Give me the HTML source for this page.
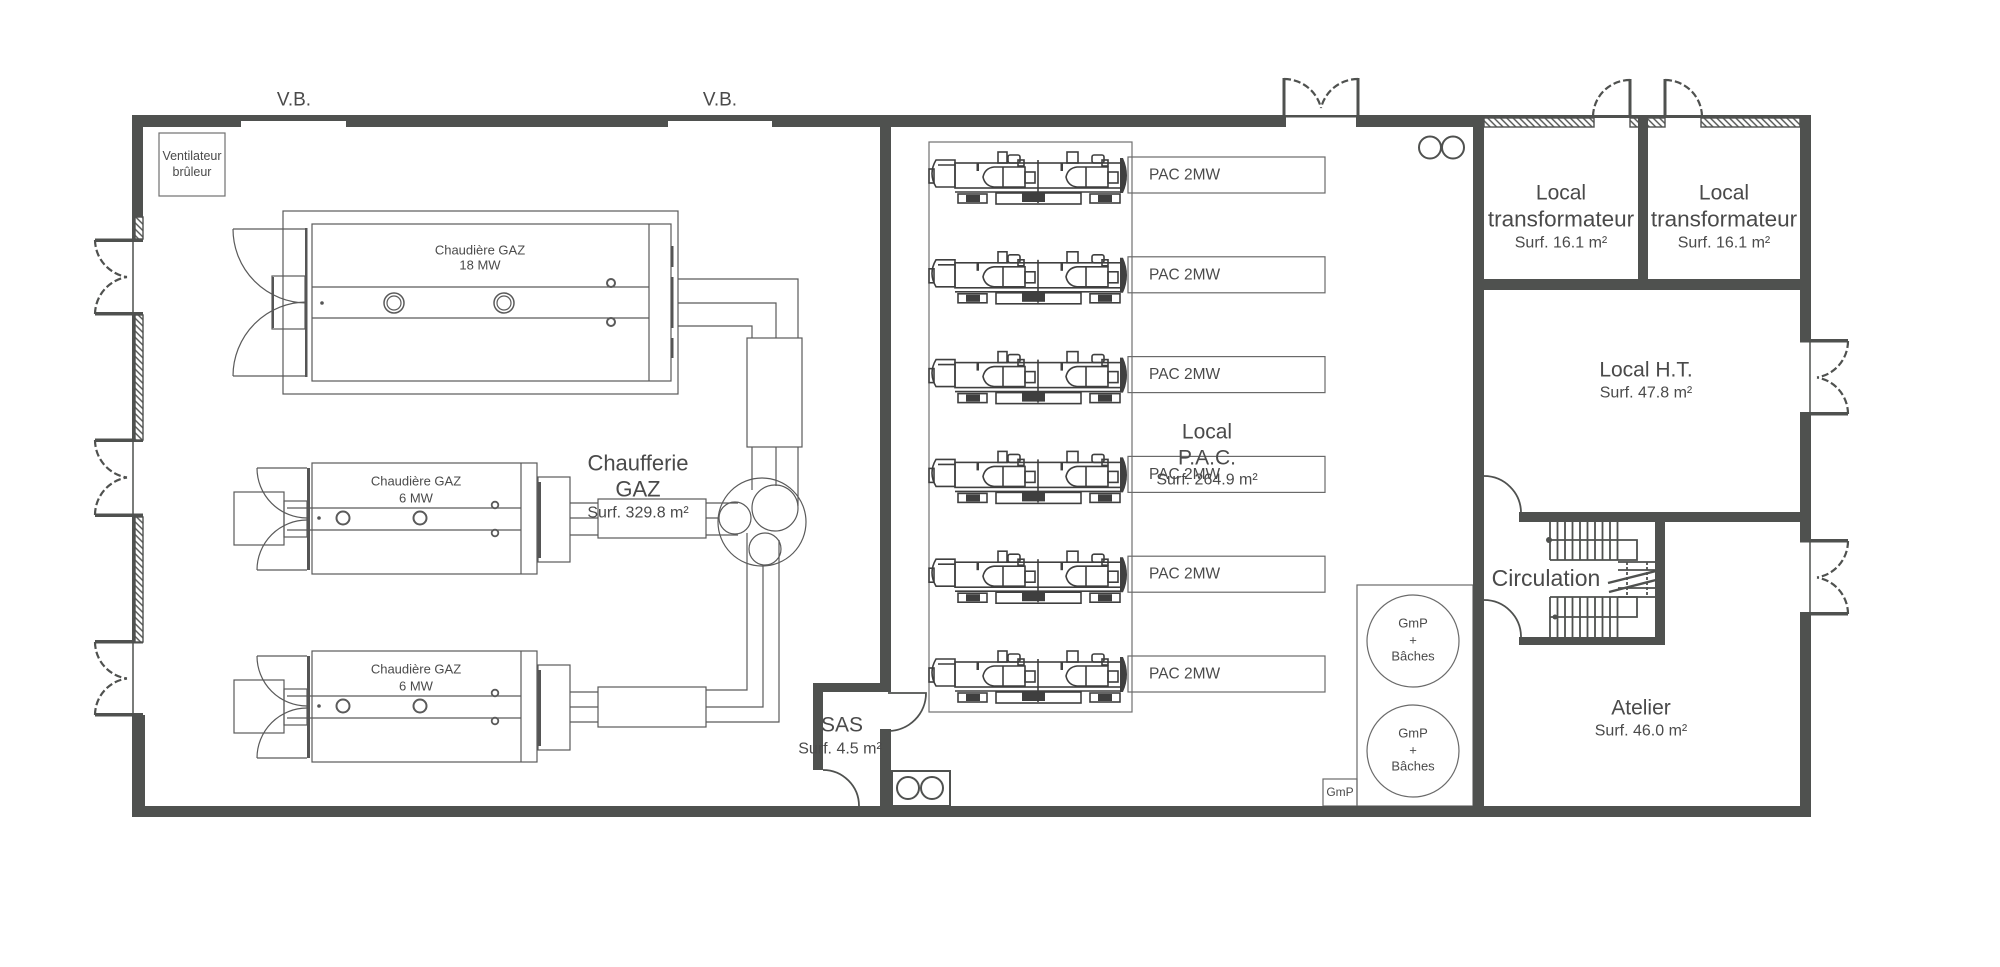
<!DOCTYPE html>
<html><head><meta charset="utf-8">
<style>html,body{margin:0;padding:0;background:#fff;}svg{display:block}</style>
</head><body>
<svg width="2000" height="967" viewBox="0 0 2000 967" xmlns="http://www.w3.org/2000/svg">
<defs>
<pattern id="h" patternUnits="userSpaceOnUse" width="4.5" height="4.5" patternTransform="rotate(-45)"><rect width="4.5" height="4.5" fill="#fff"/><line x1="1" y1="0" x2="1" y2="4.5" stroke="#4f514f" stroke-width="1.4"/></pattern>
<g id="pac">
  <g fill="none" stroke="#3f3f3f" stroke-width="1.6">
    <path d="M936 160 H955 V187 H936 Q928 173.5 936 160 Z"/>
    <rect x="929" y="169" width="5" height="14"/>
    <line x1="938" y1="165" x2="955" y2="165"/>
    <rect x="955" y="163" width="166" height="25"/>
    <line x1="955" y1="192" x2="1121" y2="192"/>
    <path d="M983 177 Q985 168 994 167 H1025 V187 H994 Q985 186 983 177 Z"/>
    <line x1="1003" y1="167" x2="1003" y2="187"/>
    <rect x="1025" y="172" width="10" height="11"/>
    <path d="M1066 177 Q1068 168 1077 167 H1108 V187 H1077 Q1068 186 1066 177 Z"/>
    <line x1="1086" y1="167" x2="1086" y2="187"/>
    <rect x="1108" y="172" width="10" height="11"/>
    <rect x="998" y="152" width="9" height="11"/>
    <rect x="1067" y="152" width="11" height="11"/>
    <rect x="1008" y="155" width="12" height="8" rx="2"/>
    <rect x="1018" y="160" width="6" height="6"/>
    <rect x="1092" y="155" width="12" height="8" rx="2"/>
    <rect x="1102" y="160" width="6" height="6"/>
    <line x1="1038" y1="160" x2="1038" y2="203"/>
    <rect x="996" y="193" width="85" height="11"/>
    <rect x="958" y="194" width="29" height="9"/>
    <rect x="1090" y="194" width="30" height="9"/>
  </g>
  <g fill="#3f3f3f">
    <rect x="1022" y="193" width="23" height="9"/>
    <rect x="966" y="195" width="14" height="7"/>
    <rect x="1098" y="195" width="14" height="7"/>
    <rect x="976.5" y="163" width="2.5" height="8"/>
    <rect x="1060.5" y="163" width="2.5" height="8"/>
    <path d="M1120 158 H1123 Q1131 175.5 1123 193 H1120 Z"/>
  </g>
</g>
<g id="b6" fill="none" stroke="#5a5a5a" stroke-width="1.2">
  <rect x="312" y="463" width="225" height="111"/>
  <line x1="521" y1="463" x2="521" y2="574"/>
  <rect x="284" y="501" width="23" height="36"/>
  <rect x="234" y="492" width="50" height="53"/>
  <line x1="287" y1="508" x2="521" y2="508"/>
  <line x1="287" y1="530" x2="521" y2="530"/>
  <circle cx="343" cy="518" r="6.5" stroke-width="2"/>
  <circle cx="420" cy="518" r="6.5" stroke-width="2"/>
  <circle cx="495" cy="505" r="3.3" stroke-width="1.8"/>
  <circle cx="495" cy="533" r="3.3" stroke-width="1.8"/>
  <rect x="538" y="477" width="32" height="85"/>
  <path d="M257 468 H307 M257 570 H307"/>
  <path d="M257 468 A50 50 0 0 0 307 518"/>
  <path d="M257 570 A50 50 0 0 1 307 520"/>
  <rect x="307" y="468" width="3" height="102" fill="#555" stroke="none"/>
  <rect x="538" y="482" width="3" height="76" fill="#555" stroke="none"/>
  <circle cx="319" cy="518" r="1.8" fill="#555" stroke="none"/>
</g>
</defs>

<!-- ===== Chaufferie equipment ===== -->
<rect x="159" y="133" width="66" height="63" fill="none" stroke="#707070" stroke-width="1.2"/>

<g fill="none" stroke="#5a5a5a" stroke-width="1.2">
  <rect x="283" y="211" width="395" height="183"/>
  <rect x="312" y="224" width="359" height="157"/>
  <line x1="649" y1="224" x2="649" y2="381"/>
  <rect x="272" y="276" width="33" height="53"/>
  <line x1="312" y1="287" x2="649" y2="287"/>
  <line x1="312" y1="318" x2="649" y2="318"/>
  <circle cx="394" cy="303" r="10" stroke-width="1.5"/>
  <circle cx="394" cy="303" r="7" stroke-width="1.2"/>
  <circle cx="504" cy="303" r="10" stroke-width="1.5"/>
  <circle cx="504" cy="303" r="7" stroke-width="1.2"/>
  <circle cx="611" cy="283" r="4" stroke-width="2"/>
  <circle cx="611" cy="322" r="4" stroke-width="2"/>
  <path d="M233 229 H307 M233 376 H307"/>
  <path d="M233 229 A74 74 0 0 0 307 303"/>
  <path d="M233 376 A74 74 0 0 1 307 302"/>
</g>
<g fill="#555">
  <rect x="305" y="228" width="2.5" height="149"/>
  <rect x="272" y="277" width="2" height="51"/>
  <circle cx="322" cy="303" r="1.8"/>
  <rect x="671" y="246" width="2.5" height="21"/>
  <rect x="671" y="277" width="2.5" height="51"/>
  <rect x="671" y="338" width="2.5" height="20"/>
</g>

<use href="#b6"/>
<use href="#b6" transform="translate(0,188)"/>

<!-- pipes -->
<g fill="none" stroke="#5a5a5a" stroke-width="1.2">
  <path d="M678 279 H798 V338"/>
  <path d="M678 303 H776 V338"/>
  <path d="M678 326 H752 V338"/>
  <rect x="747" y="338" width="55" height="109"/>
  <path d="M752 447 V490 M776 447 V486 M798 447 V506"/>
  <path d="M570 503 H598 M570 518 H598 M570 535 H598"/>
  <rect x="598" y="499" width="108" height="39"/>
  <path d="M706 503 H738 M706 518 H719 M706 535 H738"/>
  <path d="M570 692 H598 M570 707 H598 M570 722 H598"/>
  <rect x="598" y="687" width="108" height="40"/>
  <path d="M706 690 H747 V533"/>
  <path d="M706 707 H763 V565"/>
  <path d="M706 722 H779 V540"/>
  <circle cx="762" cy="522" r="44"/>
  <circle cx="775" cy="508" r="23"/>
  <circle cx="735" cy="518" r="16"/>
  <circle cx="765" cy="549" r="16"/>
</g>

<!-- ===== PAC room equipment ===== -->
<rect x="929" y="142" width="203" height="570" fill="none" stroke="#707070" stroke-width="1.2"/>
<use href="#pac"/>
<use href="#pac" transform="translate(0,99.8)"/>
<use href="#pac" transform="translate(0,199.6)"/>
<use href="#pac" transform="translate(0,299.4)"/>
<use href="#pac" transform="translate(0,399.2)"/>
<use href="#pac" transform="translate(0,499)"/>
<g fill="none" stroke="#6a6a6a" stroke-width="1.2">
  <rect x="1128" y="157" width="197" height="36"/>
  <rect x="1128" y="256.8" width="197" height="36"/>
  <rect x="1128" y="356.6" width="197" height="36"/>
  <rect x="1128" y="456.4" width="197" height="36"/>
  <rect x="1128" y="556.2" width="197" height="36"/>
  <rect x="1128" y="656" width="197" height="36"/>
  <rect x="1357" y="585" width="116" height="221"/>
  <circle cx="1413" cy="641" r="46"/>
  <circle cx="1413" cy="751" r="46"/>
  <rect x="1323" y="779" width="34" height="27"/>
</g>
<g fill="none" stroke="#4f514f" stroke-width="2">
  <circle cx="1430" cy="147.5" r="11"/>
  <circle cx="1453" cy="147.5" r="11"/>
  <rect x="892" y="771" width="58" height="35"/>
  <circle cx="908" cy="788" r="11"/>
  <circle cx="932" cy="788" r="11"/>
</g>

<!-- ===== Walls ===== -->
<g fill="#4f514f">
  <rect x="132" y="115" width="1352" height="12"/>
  <rect x="1484" y="115" width="327" height="3"/>
  <rect x="132" y="115" width="11" height="102"/>
  <rect x="132" y="217" width="3" height="22"/>
  <rect x="132" y="315" width="3" height="125"/>
  <rect x="132" y="517" width="3" height="125"/>
  <rect x="132" y="715" width="13" height="102"/>
  <rect x="95" y="238.5" width="48" height="3.5"/>
  <rect x="95" y="312" width="48" height="3.5"/>
  <rect x="95" y="438.5" width="48" height="3.5"/>
  <rect x="95" y="513.5" width="48" height="3.5"/>
  <rect x="95" y="640" width="48" height="3.5"/>
  <rect x="95" y="713" width="48" height="3.5"/>
  <rect x="132" y="806" width="1679" height="11"/>
  <rect x="1800" y="115" width="11" height="225"/>
  <rect x="1800" y="415" width="11" height="125"/>
  <rect x="1800" y="615" width="11" height="202"/>
  <rect x="1800" y="339" width="48" height="3.5"/>
  <rect x="1800" y="412" width="48" height="3.5"/>
  <rect x="1800" y="539" width="48" height="3.5"/>
  <rect x="1800" y="612" width="48" height="3.5"/>
  <rect x="880" y="115" width="11" height="577"/>
  <rect x="880" y="729" width="11" height="80"/>
  <rect x="813" y="683" width="78" height="9"/>
  <rect x="813" y="683" width="10" height="87"/>
  <rect x="1473" y="115" width="11" height="695"/>
  <rect x="1484" y="279" width="327" height="11"/>
  <rect x="1519" y="512" width="292" height="10"/>
  <rect x="1655" y="512" width="10" height="133"/>
  <rect x="1519" y="637" width="146" height="8"/>
</g>
<!-- openings in top wall -->
<g fill="#fff">
  <rect x="241" y="121" width="105" height="7"/>
  <rect x="668" y="121" width="104" height="7"/>
  <rect x="1286" y="117.5" width="70" height="10.5"/>
</g>
<!-- hatched -->
<g fill="url(#h)" stroke="#4f514f" stroke-width="1.4">
  <rect x="1484" y="118" width="110" height="9"/>
  <rect x="1630" y="118" width="35" height="9"/>
  <rect x="1701" y="118" width="99" height="9"/>
  <rect x="135" y="217" width="8" height="22"/>
  <rect x="135" y="315" width="8" height="125"/>
  <rect x="135" y="517" width="8" height="125"/>
</g>
<rect x="1638" y="118" width="10" height="172" fill="#4f514f"/>
<rect x="1800" y="118" width="11" height="162" fill="#4f514f"/>

<!-- thin lines at openings -->
<g stroke="#4f514f" stroke-width="1.5" fill="none">
  <path d="M133 240 V314 M133 440 V515 M133 642 V715"/>
  <path d="M1810 341 V414 M1810 541 V614"/>
</g>

<!-- dashed door swings -->
<g fill="none" stroke="#4f514f" stroke-width="2.2" stroke-dasharray="7 3">
  <path d="M95 240 A38 38 0 0 0 127 277"/>
  <path d="M95 314 A38 38 0 0 1 127 277"/>
  <path d="M95 440 A38 38 0 0 0 127 477.5"/>
  <path d="M95 515 A38 38 0 0 1 127 477.5"/>
  <path d="M95 642 A37 37 0 0 0 127 678.5"/>
  <path d="M95 715 A37 37 0 0 1 127 678.5"/>
  <path d="M1848 341 A37 37 0 0 1 1817 377.5"/>
  <path d="M1848 414 A37 37 0 0 0 1817 377.5"/>
  <path d="M1848 541 A37 37 0 0 1 1817 577.5"/>
  <path d="M1848 614 A37 37 0 0 0 1817 577.5"/>
  <path d="M1630 80 A37 37 0 0 0 1593 117"/>
  <path d="M1665 80 A37 37 0 0 1 1702 117"/>
  <path d="M1284 79 A38 38 0 0 1 1321 108"/>
  <path d="M1358 79 A38 38 0 0 0 1321 108"/>
</g>
<g stroke="#4f514f" stroke-width="3" fill="none">
  <path d="M1630 117 V79 M1665 117 V79 M1284 117 V78 M1358 117 V78"/>
</g>

<!-- solid door swings -->
<g fill="none" stroke="#4f514f" stroke-width="1.8">
  <path d="M1484 476 A37 37 0 0 1 1521 513"/>
  <path d="M1484 600 A37 37 0 0 1 1521 637"/>
  <path d="M888 693 H926 A38 38 0 0 1 888 731"/>
  <path d="M823 770 A36 36 0 0 1 859 806"/>
</g>

<!-- stairs -->
<g stroke="#4f514f" stroke-width="1.8" fill="none">
  <path d="M1550 522 V560 M1557.5 522 V560 M1565 522 V560 M1572.5 522 V560 M1580 522 V560 M1587.5 522 V560 M1595 522 V560 M1602.5 522 V560 M1610 522 V560 M1617.5 522 V560"/>
  <path d="M1550 540 H1637 V560 H1550"/>
  <path d="M1618 562 H1655 M1618 570 H1655 M1618 588 H1655 M1618 597 H1655"/>
  <path d="M1627 562 V597 M1647 562 V597" stroke-dasharray="3 2"/>
  <path d="M1550 597 V637 M1557.5 597 V637 M1565 597 V637 M1572.5 597 V637 M1580 597 V637 M1587.5 597 V637 M1595 597 V637 M1602.5 597 V637 M1610 597 V637 M1617.5 597 V637"/>
  <path d="M1550 597 H1637 V617 H1550"/>
  <path d="M1608 583 L1656 571 M1609 592 L1656 580" stroke-width="2.4"/>
</g>
<circle cx="1549" cy="540" r="3" fill="#4f514f"/>
<circle cx="1555" cy="617" r="2.5" fill="#4f514f"/>
<circle cx="1659" cy="575" r="2" fill="#4f514f"/>

<!-- ===== Text ===== -->
<g font-family="'Liberation Sans', sans-serif" fill="#4a4a4a" text-anchor="middle" dominant-baseline="central">
  <text x="294" y="100" font-size="19">V.B.</text>
  <text x="720" y="100" font-size="19">V.B.</text>
  <text x="192" y="156" font-size="12.5">Ventilateur</text>
  <text x="192" y="172" font-size="12.5">brûleur</text>
  <text x="480" y="250" font-size="13">Chaudière GAZ</text>
  <text x="480" y="265" font-size="13">18 MW</text>
  <text x="416" y="481" font-size="13">Chaudière GAZ</text>
  <text x="416" y="498" font-size="13">6 MW</text>
  <text x="416" y="669" font-size="13">Chaudière GAZ</text>
  <text x="416" y="686" font-size="13">6 MW</text>
  <text x="638" y="463" font-size="22">Chaufferie</text>
  <text x="638" y="489" font-size="22">GAZ</text>
  <text x="638" y="513" font-size="16">Surf. 329.8 m²</text>
  <text x="842" y="725" font-size="21">SAS</text>
  <text x="840" y="749" font-size="16">Surf. 4.5 m²</text>
  <text x="1207" y="432" font-size="21">Local</text>
  <text x="1207" y="458" font-size="21">P.A.C.</text>
  <text x="1207" y="480" font-size="16">Surf. 264.9 m²</text>
  <text x="1561" y="193" font-size="21">Local</text>
  <text x="1561" y="219" font-size="22.5">transformateur</text>
  <text x="1561" y="243" font-size="16">Surf. 16.1 m²</text>
  <text x="1724" y="193" font-size="21">Local</text>
  <text x="1724" y="219" font-size="22.5">transformateur</text>
  <text x="1724" y="243" font-size="16">Surf. 16.1 m²</text>
  <text x="1646" y="370" font-size="21">Local H.T.</text>
  <text x="1646" y="393" font-size="16">Surf. 47.8 m²</text>
  <text x="1546" y="578" font-size="23">Circulation</text>
  <text x="1641" y="708" font-size="21">Atelier</text>
  <text x="1641" y="731" font-size="16">Surf. 46.0 m²</text>
  <text x="1413" y="623" font-size="13">GmP</text>
  <text x="1413" y="640" font-size="13">+</text>
  <text x="1413" y="656" font-size="13">Bâches</text>
  <text x="1413" y="733" font-size="13">GmP</text>
  <text x="1413" y="750" font-size="13">+</text>
  <text x="1413" y="766" font-size="13">Bâches</text>
  <text x="1340" y="792" font-size="12">GmP</text>
</g>
<g font-family="'Liberation Sans', sans-serif" fill="#4a4a4a" font-size="15.5" dominant-baseline="central">
  <text x="1149" y="175">PAC 2MW</text>
  <text x="1149" y="274.8">PAC 2MW</text>
  <text x="1149" y="374.6">PAC 2MW</text>
  <text x="1149" y="474.4">PAC 2MW</text>
  <text x="1149" y="574.2">PAC 2MW</text>
  <text x="1149" y="674">PAC 2MW</text>
</g>
</svg>
</body></html>
